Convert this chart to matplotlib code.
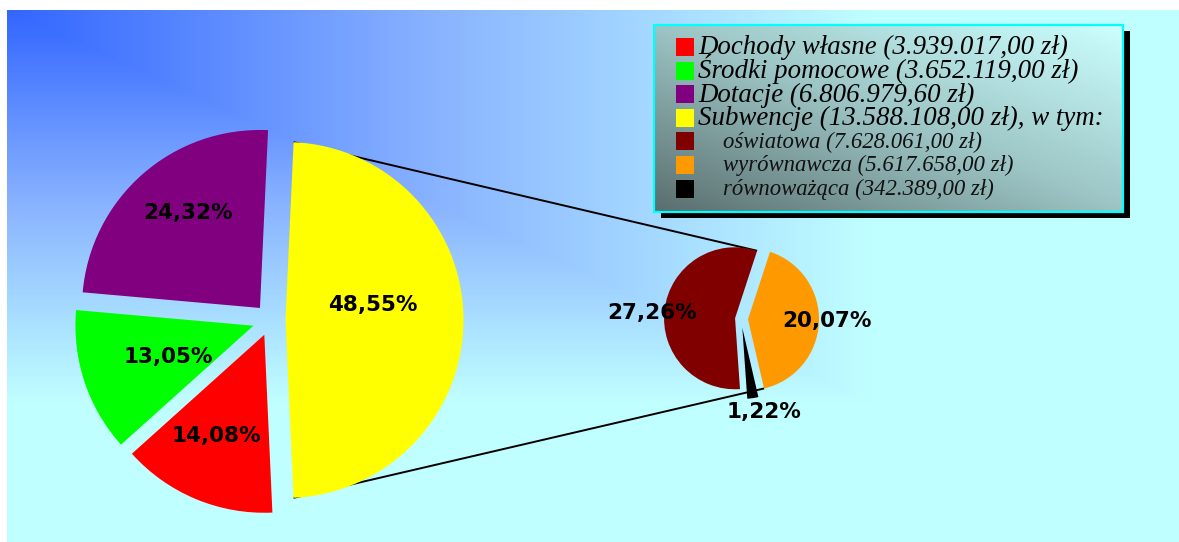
import numpy as np
import matplotlib
matplotlib.use('Agg')
import matplotlib.pyplot as plt
from matplotlib.colors import LinearSegmentedColormap
from matplotlib.patches import Rectangle

# ---------------- data ----------------
categories = ['Dochody własne', 'Środki pomocowe', 'Dotacje', 'Subwencje']
values = [3939017.00, 3652119.00, 6806979.60, 13588108.00]
pct_labels = ['14,08%', '13,05%', '24,32%', '48,55%']
colors = ['#ff0000', '#00ff00', '#800080', '#ffff00']

sub_categories = ['oświatowa', 'wyrównawcza', 'równoważąca']
sub_values = [7628061.00, 5617658.00, 342389.00]
sub_pct_labels = ['27,26%', '20,07%', '1,22%']
sub_colors = ['#800000', '#ff9900', '#000000']

# ---------------- layout ----------------
W, H = 1179, 542
def Y(y_img):
    return H - y_img

def fmt_pln(v):
    s = f"{v:,.2f}".replace(',', ' ').replace('.', ',').replace(' ', '.')
    return s + ' zł'

fig = plt.figure(figsize=(W / 100, H / 100), dpi=100)
fig.patch.set_facecolor('white')
ax = fig.add_axes([0, 0, 1, 1])

# background gradient (from top-left corner)
bx0, by0 = 7, 10
nx, ny = W - bx0, H - by0
xx = np.linspace(0, 1, nx)[None, :]
yy = np.linspace(0, 1, ny)[:, None]
u = np.maximum(xx, yy)
t = np.clip(1.35 * u, 0, 1)
bg_cmap = LinearSegmentedColormap.from_list(
    'bg', [(0, '#3366ff'), (0.5, '#8ab4ff'), (1, '#c0ffff')])
ax.imshow(bg_cmap(t), extent=(bx0, W, 0, H - by0), origin='upper',
          zorder=0, interpolation='bilinear', aspect='auto')

# ---------------- main pie ----------------
big_center = (270.5, Y(320))
big_r = 178
big_explode = [16, 18, 16, 15]
frac_last = values[-1] / sum(values)
big_wedges, _ = ax.pie(values, colors=colors, radius=big_r, center=big_center,
                       explode=big_explode, counterclock=False,
                       startangle=-180 * frac_last,
                       wedgeprops=dict(linewidth=0, zorder=3))

# ---------------- secondary pie ----------------
small_center = (741, Y(319))
small_r = 71
small_explode = [6, 7, 9]
small_wedges, _ = ax.pie(sub_values, colors=sub_colors, radius=small_r,
                         center=small_center, explode=small_explode,
                         counterclock=False, startangle=-86,
                         wedgeprops=dict(linewidth=0, zorder=3))

# connector lines (from wedge geometry)
def pt(center, r, ang):
    a = np.deg2rad(ang)
    return center[0] + r * np.cos(a), center[1] + r * np.sin(a)

yw = big_wedges[3]
dw = small_wedges[0]
ow = small_wedges[1]
for (w1, a1), (w2, a2) in [((yw, yw.theta2), (dw, dw.theta1)),
                           ((yw, yw.theta1), (ow, ow.theta1))]:
    p1 = pt(w1.center, w1.r, a1)
    p2 = pt(w2.center, w2.r, a2)
    ax.plot([p1[0], p2[0]], [p1[1], p2[1]], color='black', lw=1.4,
            zorder=2, solid_capstyle='butt')

# percentage labels
def place_labels(wedges, labels, rfrac, dang):
    for w, lab, rf, da in zip(wedges, labels, rfrac, dang):
        mid = 0.5 * (w.theta1 + w.theta2) + da
        x, y = pt(w.center, w.r * rf, mid)
        ax.text(x, y, lab, ha='center', va='center', fontsize=15.5,
                fontweight='bold', family='DejaVu Sans', color='black',
                zorder=5)

place_labels(big_wedges, pct_labels, [0.63, 0.51, 0.67, 0.50],
             [-2.5, 1.7, -4.3, 9.7])
place_labels(small_wedges, sub_pct_labels, [1.17, 1.11, 1.22],
             [3.3, 1.2, 5.9])

# ---------------- legend ----------------
lx0, lx1, ly0, ly1 = 654, 1123, 25, 212
ax.add_patch(Rectangle((lx0 + 7, Y(ly1 + 6)), lx1 - lx0, ly1 - ly0,
                       facecolor='black', edgecolor='none', zorder=6))
gx = np.linspace(0, 1, 200)[None, :]
gy = np.linspace(1, 0, 80)[:, None]
gt = (gx + gy) / 2
leg_cmap = LinearSegmentedColormap.from_list(
    'leg', [(0, '#5a6e6e'), (0.5, '#9cc4c4'), (1, '#ccffff')])
ax.imshow(leg_cmap(gt), extent=(lx0, lx1, Y(ly1), Y(ly0)), origin='upper',
          zorder=7, interpolation='bilinear', aspect='auto')
ax.add_patch(Rectangle((lx0, Y(ly1)), lx1 - lx0, ly1 - ly0, facecolor='none',
                       edgecolor='#00ffff', lw=1.6, zorder=8))

legend_items = []
for i, (c, v) in enumerate(zip(categories, values)):
    lab = f"{c} ({fmt_pln(v)})"
    if i == len(categories) - 1:
        lab += ", w tym:"
    legend_items.append((lab, colors[i], False))
for c, v, col in zip(sub_categories, sub_values, sub_colors):
    legend_items.append((f"{c} ({fmt_pln(v)})", col, True))

row0, row_step = 47, 23.6
for i, (lab, col, sub) in enumerate(legend_items):
    yc = row0 + i * row_step
    ax.add_patch(Rectangle((676, Y(yc + 9)), 18, 18, facecolor=col,
                           edgecolor='none', zorder=9))
    if sub:
        ax.text(723, Y(yc + 6.5), lab, fontsize=16.4, style='italic',
                family='Liberation Serif', va='baseline', ha='left',
                color='#111111', zorder=9)
    else:
        ax.text(698, Y(yc + 7.3), lab, fontsize=19.4, style='italic',
                family='Liberation Serif', va='baseline', ha='left',
                color='black', zorder=9)

ax.set_xlim(0, W)
ax.set_ylim(0, H)
ax.set_aspect('auto')
ax.axis('off')
fig.savefig('out.png', dpi=100, facecolor='white')
